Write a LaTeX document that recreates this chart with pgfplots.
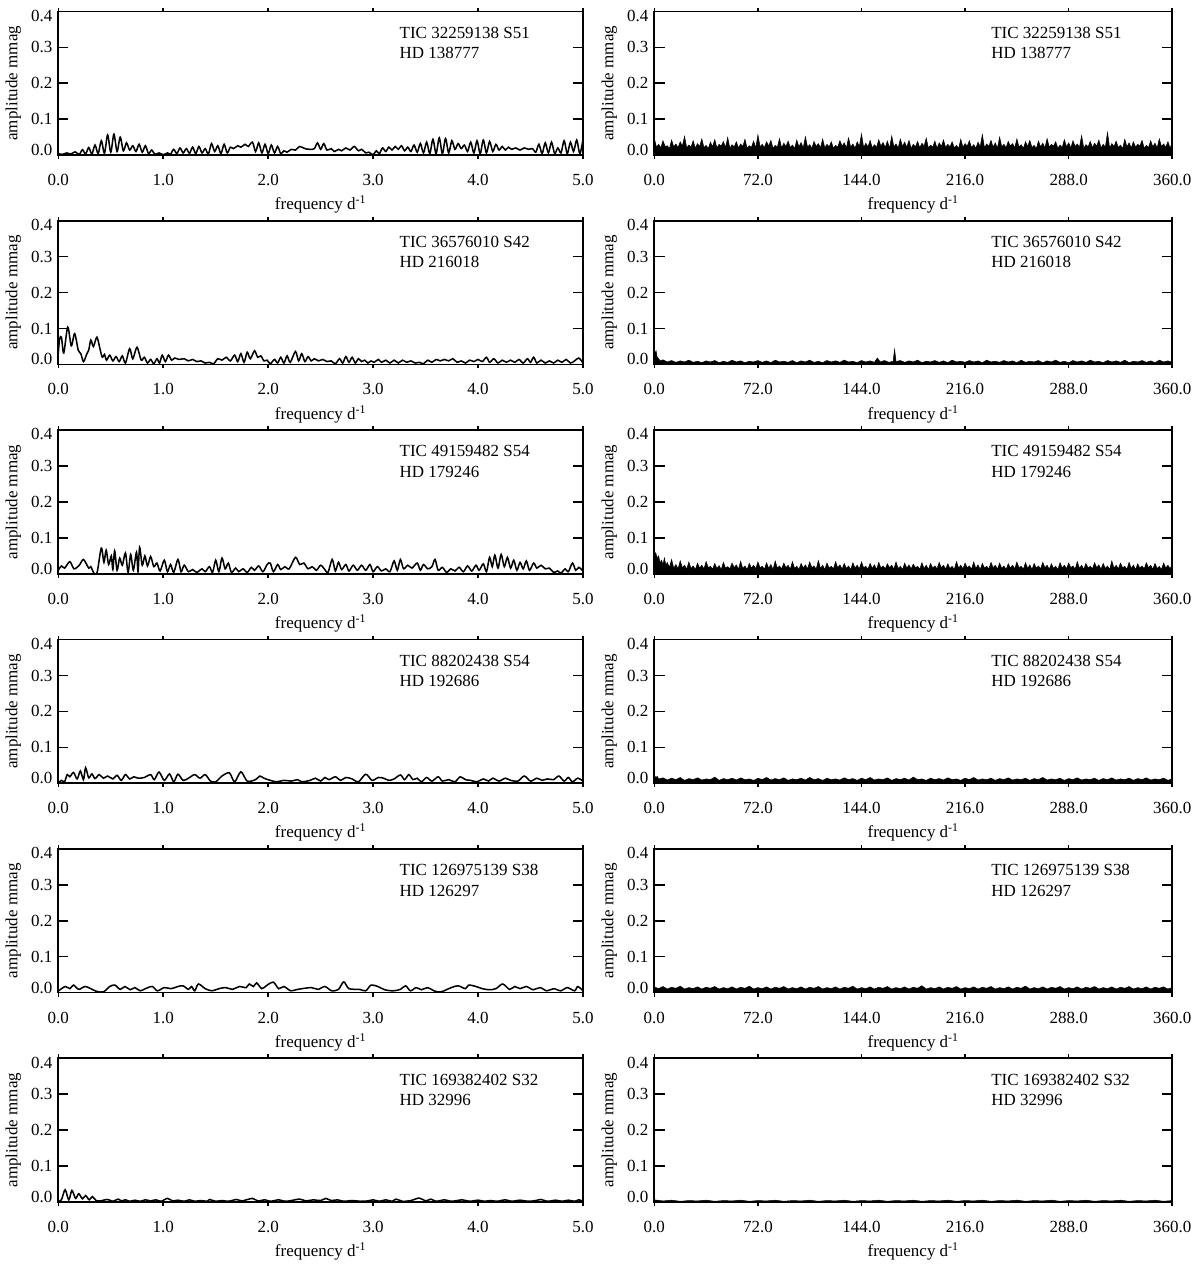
\documentclass[border=0pt]{standalone}
\usepackage{fontspec}
\setmainfont{Liberation Serif}
\usepackage{pgfplots}
\pgfplotsset{compat=1.18}
\usepgfplotslibrary{groupplots}

\newcommand{\starlabel}[2]{\node[anchor=north west, inner sep=0pt, align=left] at (rel axis cs:0.65,0.895) {#1\\#2};}

\pgfplotsset{
  pgram/.style={
    scale only axis, height=84.6pt,
    ymin=0, ymax=0.40,
    ytick={0,0.1,0.2,0.3,0.4},
    yticklabels={\raisebox{3pt}[\height][\depth]{0.0},0.1,0.2,0.3,\raisebox{-2.5pt}[\height][\depth]{0.4}},
    xtick align=outside, ytick align=inside,
    xtick style={/pgfplots/major tick length=2.3pt},
    ytick style={/pgfplots/major tick length=6pt},
    minor tick num=0,
    axis line style={line width=1pt},
    tick style={line width=0.9pt, black},
    xticklabel style={yshift=-3.5pt},
    xlabel={frequency d\textsuperscript{-1}},
    ylabel={amplitude mmag},
    xlabel style={yshift=1pt},
    ylabel style={yshift=-1pt},
  },
  lft/.style={pgram, width=309pt, xmin=0, xmax=5, xtick={0,1,2,3,4,5},
    xticklabels={0.0,1.0,2.0,3.0,4.0,5.0}},
  rgt/.style={pgram, width=305pt, xmin=0, xmax=360, xtick={0,72,144,216,288,360},
    xticklabels={0.0,72.0,144.0,216.0,288.0,360.0}},
  curve/.style={black, line width=0.9pt, smooth, tension=0.5},
  noise/.style={black, fill=black, line width=0.3pt},
}

\begin{document}
\begin{tikzpicture}
\begin{groupplot}[group style={group size=2 by 6, horizontal sep=42pt, vertical sep=38.7pt}]

% ---- row 1
\nextgroupplot[lft]
\addplot[curve] coordinates {
(0,0.004)(0.04,0.002)(0.08,0.006)(0.12,0.003)(0.16,0.009)(0.20,0.002)(0.23,0.015)(0.26,0.003)
(0.29,0.021)(0.32,0.003)(0.35,0.028)(0.38,0.004)(0.41,0.040)(0.44,0.005)(0.47,0.056)(0.50,0.008)
(0.53,0.058)(0.56,0.010)(0.59,0.050)(0.62,0.012)(0.65,0.034)(0.68,0.014)(0.71,0.026)(0.74,0.010)
(0.77,0.030)(0.80,0.008)(0.83,0.026)(0.86,0.004)(0.89,0.014)(0.92,0.002)(0.96,0.006)(1.00,0.001)
(1.04,0.006)(1.07,0.003)(1.10,0.016)(1.13,0.004)(1.16,0.020)(1.19,0.006)(1.22,0.018)(1.25,0.005)
(1.28,0.022)(1.31,0.004)(1.34,0.024)(1.37,0.006)(1.40,0.018)(1.43,0.003)(1.46,0.032)(1.49,0.010)
(1.52,0.026)(1.55,0.004)(1.58,0.030)(1.61,0.006)(1.64,0.022)(1.67,0.018)(1.71,0.026)(1.74,0.022)
(1.78,0.030)(1.81,0.024)(1.85,0.036)(1.88,0.010)(1.91,0.034)(1.94,0.006)(1.97,0.030)(2.00,0.004)
(2.03,0.028)(2.06,0.006)(2.09,0.024)(2.12,0.004)(2.15,0.012)(2.18,0.008)(2.22,0.016)(2.26,0.014)
(2.30,0.024)(2.35,0.018)(2.40,0.016)(2.44,0.018)(2.47,0.034)(2.50,0.016)(2.53,0.032)(2.56,0.014)
(2.60,0.018)(2.63,0.010)(2.67,0.016)(2.70,0.012)(2.74,0.020)(2.78,0.014)(2.82,0.024)(2.86,0.012)
(2.89,0.016)(2.93,0.006)(2.96,0.008)(3.00,0.001)(3.03,0.012)(3.06,0.004)(3.09,0.020)(3.12,0.010)
(3.15,0.022)(3.18,0.014)(3.21,0.024)(3.24,0.016)(3.27,0.026)(3.30,0.012)(3.33,0.022)(3.36,0.010)
(3.39,0.028)(3.42,0.008)(3.45,0.032)(3.48,0.006)(3.51,0.036)(3.54,0.004)(3.57,0.044)(3.60,0.004)
(3.63,0.048)(3.66,0.004)(3.69,0.046)(3.72,0.006)(3.75,0.040)(3.78,0.016)(3.81,0.032)(3.84,0.018)
(3.87,0.028)(3.90,0.010)(3.93,0.036)(3.96,0.006)(3.99,0.040)(4.02,0.004)(4.05,0.042)(4.08,0.006)
(4.11,0.038)(4.14,0.010)(4.17,0.030)(4.20,0.014)(4.23,0.024)(4.26,0.014)(4.29,0.022)(4.32,0.016)
(4.36,0.020)(4.40,0.014)(4.44,0.020)(4.48,0.016)(4.52,0.018)(4.55,0.008)(4.58,0.030)(4.61,0.004)
(4.64,0.034)(4.67,0.006)(4.70,0.036)(4.73,0.004)(4.76,0.020)(4.79,0.006)(4.82,0.040)(4.85,0.004)
(4.88,0.036)(4.91,0.010)(4.94,0.042)(4.97,0.004)(5.00,0.044)};
\starlabel{TIC 32259138 S51}{HD 138777}

\nextgroupplot[rgt]
\addplot[noise] coordinates {
(0,0.046)(1.5,0.022)(3,0.030)(4.5,0.020)(6,0.040)(7.5,0.024)(9,0.026)(10.5,0.018)(12,0.042)(13.5,0.023)
(15,0.031)(16.5,0.021)(18,0.037)(19.5,0.025)(21,0.052)(22.5,0.020)(24,0.028)(25.5,0.022)(27,0.040)(28.5,0.019)
(30,0.032)(31.5,0.024)(33,0.045)(34.5,0.021)(36,0.027)(37.5,0.018)(39,0.036)(40.5,0.023)(42,0.043)(43.5,0.020)
(45,0.030)(46.5,0.025)(48,0.038)(49.5,0.021)(51,0.049)(52.5,0.019)(54,0.029)(55.5,0.023)(57,0.037)(58.5,0.020)
(60,0.031)(61.5,0.024)(63,0.044)(64.5,0.019)(66,0.026)(67.5,0.022)(69,0.039)(70.5,0.020)(72,0.056)(73.5,0.023)
(75,0.030)(76.5,0.021)(78,0.037)(79.5,0.025)(81,0.041)(82.5,0.019)(84,0.027)(85.5,0.022)(87,0.046)(88.5,0.020)
(90,0.033)(91.5,0.024)(93,0.039)(94.5,0.021)(96,0.028)(97.5,0.018)(99,0.042)(100.5,0.023)(102,0.035)(103.5,0.020)
(105,0.051)(106.5,0.022)(108,0.029)(109.5,0.019)(111,0.038)(112.5,0.024)(114,0.032)(115.5,0.021)(117,0.045)(118.5,0.020)
(120,0.030)(121.5,0.023)(123,0.037)(124.5,0.019)(126,0.027)(127.5,0.022)(129,0.040)(130.5,0.025)(132,0.034)(133.5,0.020)
(135,0.048)(136.5,0.022)(138,0.031)(139.5,0.019)(141,0.037)(142.5,0.024)(144,0.059)(145.5,0.021)(147,0.033)(148.5,0.023)
(150,0.041)(151.5,0.020)(153,0.029)(154.5,0.022)(156,0.043)(157.5,0.025)(159,0.035)(160.5,0.021)(162,0.039)(163.5,0.019)
(165,0.053)(166.5,0.023)(168,0.031)(169.5,0.020)(171,0.045)(172.5,0.024)(174,0.036)(175.5,0.022)(177,0.041)(178.5,0.019)
(180,0.030)(181.5,0.023)(183,0.038)(184.5,0.021)(186,0.033)(187.5,0.025)(189,0.047)(190.5,0.020)(192,0.028)(193.5,0.022)
(195,0.039)(196.5,0.019)(198,0.034)(199.5,0.024)(201,0.042)(202.5,0.021)(204,0.030)(205.5,0.023)(207,0.037)(208.5,0.020)
(210,0.027)(211.5,0.018)(213,0.044)(214.5,0.022)(216,0.032)(217.5,0.025)(219,0.040)(220.5,0.021)(222,0.029)(223.5,0.019)
(225,0.036)(226.5,0.023)(228,0.057)(229.5,0.020)(231,0.031)(232.5,0.024)(234,0.041)(235.5,0.022)(237,0.034)(238.5,0.019)
(240,0.050)(241.5,0.023)(243,0.030)(244.5,0.021)(246,0.038)(247.5,0.025)(249,0.032)(250.5,0.020)(252,0.045)(253.5,0.022)
(255,0.029)(256.5,0.019)(258,0.037)(259.5,0.024)(261,0.041)(262.5,0.021)(264,0.027)(265.5,0.018)(267,0.039)(268.5,0.023)
(270,0.033)(271.5,0.020)(273,0.046)(274.5,0.022)(276,0.030)(277.5,0.025)(279,0.037)(280.5,0.019)(282,0.028)(283.5,0.021)
(285,0.043)(286.5,0.023)(288,0.034)(289.5,0.020)(291,0.040)(292.5,0.024)(294,0.031)(295.5,0.022)(297,0.054)(298.5,0.019)
(300,0.029)(301.5,0.023)(303,0.038)(304.5,0.021)(306,0.033)(307.5,0.025)(309,0.042)(310.5,0.020)(312,0.030)(313.5,0.022)
(315,0.063)(316.5,0.019)(318,0.032)(319.5,0.024)(321,0.039)(322.5,0.021)(324,0.028)(325.5,0.018)(327,0.044)(328.5,0.023)
(330,0.034)(331.5,0.020)(333,0.037)(334.5,0.022)(336,0.030)(337.5,0.025)(339,0.041)(340.5,0.019)(342,0.027)(343.5,0.021)
(345,0.040)(346.5,0.023)(348,0.033)(349.5,0.020)(351,0.045)(352.5,0.024)(354,0.031)(355.5,0.022)(357,0.037)(358.5,0.019)
(360,0.035)} \closedcycle;
\starlabel{TIC 32259138 S51}{HD 138777}

% ---- row 2
\nextgroupplot[lft]
\addplot[curve] coordinates {
(0,0.030)(0.012,0.070)(0.030,0.076)(0.052,0.032)(0.090,0.104)(0.124,0.052)(0.156,0.086)(0.190,0.040)
(0.215,0.030)(0.240,0.008)(0.270,0.028)(0.290,0.040)(0.310,0.068)(0.335,0.050)(0.368,0.076)(0.400,0.040)
(0.420,0.020)(0.440,0.028)(0.460,0.012)(0.490,0.026)(0.520,0.010)(0.550,0.022)(0.580,0.008)(0.610,0.024)
(0.640,0.004)(0.680,0.044)(0.710,0.016)(0.750,0.048)(0.790,0.012)(0.820,0.020)(0.850,0.004)(0.880,0.014)
(0.910,0.002)(0.940,0.016)(0.965,0.004)(0.990,0.026)(1.020,0.008)(1.050,0.026)(1.080,0.012)(1.110,0.018)
(1.150,0.014)(1.200,0.016)(1.240,0.010)(1.280,0.014)(1.320,0.008)(1.360,0.010)(1.400,0.004)(1.440,0.006)
(1.480,0.002)(1.520,0.016)(1.560,0.012)(1.600,0.020)(1.640,0.010)(1.680,0.026)(1.710,0.008)(1.740,0.030)
(1.770,0.006)(1.800,0.034)(1.830,0.016)(1.870,0.038)(1.900,0.020)(1.930,0.024)(1.960,0.010)(1.990,0.012)
(2.020,0.002)(2.060,0.014)(2.090,0.004)(2.120,0.020)(2.150,0.004)(2.180,0.024)(2.210,0.006)(2.260,0.036)
(2.290,0.010)(2.320,0.030)(2.350,0.008)(2.380,0.022)(2.410,0.010)(2.440,0.016)(2.480,0.010)(2.520,0.014)
(2.560,0.008)(2.600,0.010)(2.640,0.002)(2.680,0.016)(2.710,0.004)(2.740,0.022)(2.770,0.006)(2.800,0.020)
(2.830,0.004)(2.860,0.016)(2.890,0.008)(2.920,0.012)(2.950,0.004)(2.980,0.010)(3.010,0.006)(3.050,0.014)
(3.080,0.006)(3.120,0.012)(3.160,0.004)(3.200,0.012)(3.240,0.004)(3.280,0.012)(3.320,0.006)(3.360,0.010)
(3.400,0.004)(3.440,0.006)(3.480,0.002)(3.520,0.012)(3.560,0.006)(3.600,0.014)(3.640,0.010)(3.680,0.014)
(3.720,0.010)(3.760,0.016)(3.800,0.006)(3.840,0.010)(3.880,0.004)(3.920,0.012)(3.960,0.008)(4.000,0.014)
(4.040,0.008)(4.080,0.020)(4.110,0.006)(4.150,0.016)(4.190,0.004)(4.230,0.012)(4.270,0.006)(4.310,0.012)
(4.350,0.006)(4.390,0.014)(4.430,0.004)(4.470,0.016)(4.500,0.006)(4.530,0.020)(4.560,0.004)(4.600,0.012)
(4.640,0.004)(4.680,0.010)(4.720,0.004)(4.760,0.012)(4.800,0.006)(4.840,0.014)(4.880,0.004)(4.920,0.010)
(4.960,0.018)(5.000,0.004)};
\starlabel{TIC 36576010 S42}{HD 216018}

\nextgroupplot[rgt]
\addplot[noise] coordinates {
(0,0.046)(0.6,0.028)(1.2,0.038)(2,0.020)(3,0.016)(4,0.010)(6,0.013)(9,0.007)(12,0.011)(15,0.006)
(18,0.010)(21,0.007)(24,0.012)(27,0.006)(30,0.009)(33,0.005)(36,0.010)(39,0.007)(42,0.011)(45,0.005)
(48,0.009)(51,0.006)(54,0.012)(57,0.007)(60,0.010)(63,0.005)(66,0.009)(69,0.007)(72,0.011)(75,0.006)
(78,0.010)(81,0.005)(84,0.012)(87,0.007)(90,0.009)(93,0.006)(96,0.011)(99,0.005)(102,0.010)(105,0.007)
(108,0.012)(111,0.006)(114,0.009)(117,0.005)(120,0.011)(123,0.007)(126,0.010)(129,0.006)(132,0.012)(135,0.007)
(138,0.009)(141,0.005)(144,0.011)(147,0.007)(150,0.010)(153,0.006)(155,0.018)(157,0.007)(160,0.011)(163,0.006)
(166,0.009)(167,0.042)(168,0.008)(171,0.011)(174,0.006)(177,0.010)(180,0.007)(183,0.012)(186,0.005)(189,0.009)
(192,0.007)(195,0.011)(198,0.006)(201,0.010)(204,0.005)(207,0.012)(210,0.007)(213,0.009)(216,0.006)(219,0.011)
(222,0.007)(225,0.010)(228,0.005)(231,0.012)(234,0.007)(237,0.009)(240,0.006)(243,0.011)(246,0.007)(249,0.010)
(252,0.005)(255,0.012)(258,0.006)(261,0.009)(264,0.007)(267,0.011)(270,0.005)(273,0.010)(276,0.007)(279,0.012)
(282,0.006)(285,0.009)(288,0.005)(291,0.011)(294,0.007)(297,0.010)(300,0.006)(303,0.012)(306,0.007)(309,0.009)
(312,0.005)(315,0.011)(318,0.007)(321,0.010)(324,0.006)(327,0.012)(330,0.005)(333,0.009)(336,0.007)(339,0.011)
(342,0.006)(345,0.010)(348,0.005)(351,0.012)(354,0.007)(357,0.010)(360,0.006)} \closedcycle;
\starlabel{TIC 36576010 S42}{HD 216018}

% ---- row 3
\nextgroupplot[lft]
\addplot[curve] coordinates {
(0,0.010)(0.030,0.022)(0.060,0.016)(0.110,0.034)(0.150,0.014)(0.200,0.024)(0.240,0.040)(0.290,0.016)
(0.310,0.020)(0.340,0.002)(0.370,0.004)(0.410,0.072)(0.435,0.032)(0.456,0.066)(0.480,0.026)(0.505,0.050)
(0.520,0.012)(0.537,0.064)(0.560,0.010)(0.585,0.044)(0.610,0.024)(0.640,0.058)(0.665,0.004)(0.690,0.054)
(0.715,0.010)(0.745,0.060)(0.760,0.006)(0.775,0.074)(0.800,0.024)(0.825,0.050)(0.850,0.022)(0.880,0.048)
(0.910,0.020)(0.940,0.030)(0.970,0.008)(1.010,0.038)(1.040,0.006)(1.070,0.026)(1.100,0.004)(1.140,0.040)
(1.170,0.006)(1.200,0.024)(1.240,0.006)(1.280,0.012)(1.320,0.004)(1.370,0.014)(1.400,0.006)(1.440,0.020)
(1.470,0.004)(1.500,0.038)(1.530,0.006)(1.560,0.044)(1.590,0.014)(1.620,0.030)(1.650,0.004)(1.690,0.016)
(1.720,0.006)(1.760,0.014)(1.800,0.004)(1.840,0.018)(1.870,0.010)(1.910,0.022)(1.950,0.006)(1.990,0.026)
(2.020,0.030)(2.050,0.006)(2.090,0.026)(2.120,0.012)(2.160,0.020)(2.200,0.014)(2.260,0.046)(2.300,0.026)
(2.340,0.030)(2.380,0.014)(2.420,0.020)(2.460,0.010)(2.500,0.024)(2.540,0.012)(2.570,0.004)(2.610,0.040)
(2.640,0.008)(2.670,0.032)(2.700,0.012)(2.740,0.026)(2.770,0.008)(2.810,0.024)(2.850,0.010)(2.890,0.024)
(2.930,0.010)(2.970,0.026)(3.000,0.006)(3.040,0.020)(3.080,0.008)(3.120,0.014)(3.160,0.006)(3.200,0.036)
(3.230,0.010)(3.260,0.040)(3.290,0.014)(3.330,0.024)(3.370,0.016)(3.420,0.030)(3.450,0.010)(3.480,0.026)
(3.520,0.014)(3.560,0.020)(3.590,0.040)(3.620,0.010)(3.660,0.018)(3.700,0.004)(3.740,0.014)(3.780,0.008)
(3.820,0.018)(3.860,0.006)(3.900,0.022)(3.940,0.008)(3.980,0.024)(4.010,0.010)(4.050,0.028)(4.080,0.006)
(4.110,0.046)(4.135,0.020)(4.160,0.052)(4.190,0.016)(4.220,0.054)(4.250,0.020)(4.280,0.046)(4.310,0.016)
(4.340,0.038)(4.370,0.010)(4.400,0.032)(4.430,0.014)(4.460,0.036)(4.490,0.010)(4.530,0.030)(4.560,0.016)
(4.600,0.024)(4.640,0.014)(4.680,0.016)(4.720,0.004)(4.760,0.008)(4.790,0.002)(4.830,0.014)(4.860,0.006)
(4.900,0.030)(4.930,0.010)(4.960,0.018)(5.000,0.008)};
\starlabel{TIC 49159482 S54}{HD 179246}

\nextgroupplot[rgt]
\addplot[noise] coordinates {
(0,0.072)(0.5,0.050)(1,0.058)(2,0.044)(3,0.050)(4,0.030)(5,0.038)(6,0.026)(7,0.044)(8,0.024)
(9,0.032)(10.5,0.018)(12,0.040)(13.5,0.016)(15,0.026)(16.5,0.014)(18,0.036)(19.5,0.017)(21,0.024)(22.5,0.013)
(24,0.033)(25.5,0.015)(27,0.022)(28.5,0.012)(30,0.030)(31.5,0.016)(33,0.024)(34.5,0.014)(36,0.034)(37.5,0.017)
(39,0.021)(40.5,0.013)(42,0.029)(43.5,0.015)(45,0.023)(46.5,0.012)(48,0.032)(49.5,0.016)(51,0.020)(52.5,0.014)
(54,0.030)(55.5,0.017)(57,0.025)(58.5,0.013)(60,0.035)(61.5,0.015)(63,0.022)(64.5,0.012)(66,0.029)(67.5,0.016)
(69,0.024)(70.5,0.014)(72,0.033)(73.5,0.017)(75,0.021)(76.5,0.013)(78,0.031)(79.5,0.015)(81,0.026)(82.5,0.012)
(84,0.036)(85.5,0.016)(87,0.022)(88.5,0.014)(90,0.030)(91.5,0.017)(93,0.024)(94.5,0.013)(96,0.034)(97.5,0.015)
(99,0.021)(100.5,0.012)(102,0.029)(103.5,0.016)(105,0.025)(106.5,0.014)(108,0.033)(109.5,0.017)(111,0.022)(112.5,0.013)
(114,0.037)(115.5,0.015)(117,0.024)(118.5,0.012)(120,0.030)(121.5,0.016)(123,0.021)(124.5,0.014)(126,0.034)(127.5,0.017)
(129,0.025)(130.5,0.013)(132,0.029)(133.5,0.015)(135,0.022)(136.5,0.012)(138,0.031)(139.5,0.016)(141,0.024)(142.5,0.014)
(144,0.033)(145.5,0.017)(147,0.021)(148.5,0.013)(150,0.029)(151.5,0.015)(153,0.025)(154.5,0.012)(156,0.032)(157.5,0.016)
(159,0.022)(160.5,0.014)(162,0.028)(163.5,0.017)(165,0.024)(166.5,0.013)(168,0.033)(169.5,0.015)(171,0.021)(172.5,0.012)
(174,0.030)(175.5,0.016)(177,0.025)(178.5,0.014)(180,0.027)(181.5,0.017)(183,0.021)(184.5,0.013)(186,0.031)(187.5,0.015)
(189,0.024)(190.5,0.012)(192,0.029)(193.5,0.016)(195,0.022)(196.5,0.014)(198,0.032)(199.5,0.017)(201,0.024)(202.5,0.013)
(204,0.028)(205.5,0.015)(207,0.021)(208.5,0.012)(210,0.034)(211.5,0.016)(213,0.024)(214.5,0.014)(216,0.030)(217.5,0.017)
(219,0.022)(220.5,0.013)(222,0.033)(223.5,0.015)(225,0.025)(226.5,0.012)(228,0.029)(229.5,0.016)(231,0.021)(232.5,0.014)
(234,0.032)(235.5,0.017)(237,0.024)(238.5,0.013)(240,0.030)(241.5,0.015)(243,0.022)(244.5,0.012)(246,0.028)(247.5,0.016)
(249,0.024)(250.5,0.014)(252,0.033)(253.5,0.017)(255,0.021)(256.5,0.013)(258,0.031)(259.5,0.015)(261,0.025)(262.5,0.012)
(264,0.029)(265.5,0.016)(267,0.022)(268.5,0.014)(270,0.032)(271.5,0.017)(273,0.024)(274.5,0.013)(276,0.028)(277.5,0.015)
(279,0.021)(280.5,0.012)(282,0.031)(283.5,0.016)(285,0.024)(286.5,0.014)(288,0.030)(289.5,0.017)(291,0.022)(292.5,0.013)
(294,0.034)(295.5,0.015)(297,0.024)(298.5,0.012)(300,0.029)(301.5,0.016)(303,0.021)(304.5,0.014)(306,0.031)(307.5,0.017)
(309,0.025)(310.5,0.013)(312,0.029)(313.5,0.015)(315,0.022)(316.5,0.012)(318,0.036)(319.5,0.016)(321,0.024)(322.5,0.014)
(324,0.030)(325.5,0.017)(327,0.021)(328.5,0.013)(330,0.032)(331.5,0.015)(333,0.024)(334.5,0.012)(336,0.028)(337.5,0.016)
(339,0.022)(340.5,0.014)(342,0.031)(343.5,0.017)(345,0.024)(346.5,0.013)(348,0.029)(349.5,0.015)(351,0.021)(352.5,0.012)
(354,0.030)(355.5,0.016)(357,0.024)(358.5,0.014)(360,0.027)} \closedcycle;
\starlabel{TIC 49159482 S54}{HD 179246}

% ---- row 4
\nextgroupplot[lft]
\addplot[curve] coordinates {
(0,0.001)(0.030,0.008)(0.060,0.004)(0.085,0.024)(0.110,0.018)(0.145,0.030)(0.180,0.012)(0.210,0.034)
(0.240,0.010)(0.260,0.043)(0.290,0.015)(0.320,0.026)(0.350,0.013)(0.390,0.024)(0.430,0.014)(0.470,0.020)
(0.520,0.012)(0.560,0.022)(0.600,0.008)(0.640,0.024)(0.680,0.012)(0.720,0.018)(0.760,0.014)(0.820,0.016)
(0.880,0.024)(0.915,0.010)(0.960,0.031)(1.010,0.008)(1.060,0.026)(1.100,0.004)(1.140,0.025)(1.190,0.008)
(1.240,0.014)(1.300,0.024)(1.350,0.014)(1.400,0.024)(1.450,0.006)(1.500,0.004)(1.560,0.020)(1.630,0.029)
(1.680,0.004)(1.740,0.032)(1.800,0.006)(1.880,0.010)(1.920,0.020)(1.960,0.014)(2.020,0.008)(2.080,0.004)
(2.150,0.008)(2.220,0.006)(2.280,0.010)(2.320,0.004)(2.400,0.008)(2.450,0.014)(2.500,0.006)(2.540,0.016)
(2.580,0.010)(2.640,0.018)(2.690,0.008)(2.740,0.016)(2.800,0.012)(2.860,0.004)(2.930,0.025)(2.990,0.008)
(3.050,0.016)(3.100,0.014)(3.150,0.008)(3.200,0.012)(3.260,0.023)(3.300,0.010)(3.340,0.024)(3.380,0.010)
(3.420,0.014)(3.460,0.004)(3.510,0.016)(3.560,0.006)(3.620,0.018)(3.660,0.006)(3.720,0.010)(3.780,0.004)
(3.830,0.018)(3.880,0.010)(3.930,0.008)(3.990,0.004)(4.050,0.012)(4.100,0.006)(4.140,0.014)(4.200,0.006)
(4.260,0.014)(4.310,0.008)(4.380,0.006)(4.440,0.020)(4.500,0.006)(4.560,0.014)(4.610,0.008)(4.660,0.012)
(4.720,0.010)(4.770,0.020)(4.820,0.006)(4.860,0.016)(4.900,0.004)(4.950,0.014)(5.000,0.006)};
\starlabel{TIC 88202438 S54}{HD 192686}

\nextgroupplot[rgt]
\addplot[noise] coordinates {
(0,0.022)(1,0.016)(2,0.019)(3,0.012)(6,0.015)(9,0.009)(12,0.014)(15,0.010)(18,0.016)(21,0.008)
(24,0.013)(27,0.010)(30,0.015)(33,0.009)(36,0.012)(39,0.010)(42,0.017)(45,0.008)(48,0.013)(51,0.010)
(54,0.014)(57,0.009)(60,0.015)(63,0.010)(66,0.012)(69,0.008)(72,0.014)(75,0.010)(78,0.016)(81,0.009)
(84,0.013)(87,0.010)(90,0.015)(93,0.008)(96,0.012)(99,0.010)(102,0.014)(105,0.009)(108,0.016)(111,0.010)
(114,0.013)(117,0.008)(120,0.014)(123,0.010)(126,0.012)(129,0.009)(132,0.015)(135,0.010)(138,0.013)(141,0.008)
(144,0.014)(147,0.010)(150,0.016)(153,0.009)(156,0.012)(159,0.010)(162,0.015)(165,0.008)(168,0.013)(171,0.010)
(174,0.014)(177,0.009)(180,0.017)(183,0.010)(186,0.012)(189,0.008)(192,0.014)(195,0.010)(198,0.013)(201,0.009)
(204,0.015)(207,0.010)(210,0.012)(213,0.008)(216,0.014)(219,0.010)(222,0.016)(225,0.009)(228,0.012)(231,0.010)
(234,0.014)(237,0.008)(240,0.013)(243,0.010)(246,0.015)(249,0.009)(252,0.012)(255,0.010)(258,0.014)(261,0.008)
(264,0.013)(267,0.010)(270,0.016)(273,0.009)(276,0.012)(279,0.010)(282,0.014)(285,0.008)(288,0.013)(291,0.010)
(294,0.015)(297,0.009)(300,0.012)(303,0.010)(306,0.014)(309,0.008)(312,0.013)(315,0.010)(318,0.015)(321,0.009)
(324,0.012)(327,0.010)(330,0.014)(333,0.008)(336,0.013)(339,0.010)(342,0.015)(345,0.009)(348,0.012)(351,0.010)
(354,0.014)(357,0.008)(360,0.012)} \closedcycle;
\starlabel{TIC 88202438 S54}{HD 192686}

% ---- row 5
\nextgroupplot[lft]
\addplot[curve] coordinates {
(0,0.004)(0.065,0.017)(0.11,0.011)(0.145,0.021)(0.195,0.009)(0.26,0.017)(0.36,0.004)(0.43,0.002)
(0.49,0.017)(0.54,0.021)(0.59,0.009)(0.635,0.017)(0.685,0.008)(0.73,0.014)(0.78,0.005)(0.83,0.011)
(0.895,0.017)(0.945,0.005)(1.01,0.014)(1.075,0.011)(1.14,0.017)(1.19,0.019)(1.24,0.009)(1.27,0.017)
(1.30,0.005)(1.335,0.024)(1.40,0.011)(1.465,0.005)(1.53,0.011)(1.595,0.014)(1.66,0.009)(1.725,0.017)
(1.79,0.014)(1.82,0.024)(1.86,0.017)(1.89,0.027)(1.94,0.011)(1.99,0.021)(2.05,0.029)(2.10,0.011)
(2.15,0.017)(2.215,0.005)(2.28,0.009)(2.41,0.014)(2.475,0.009)(2.54,0.017)(2.605,0.005)(2.67,0.009)
(2.72,0.030)(2.77,0.011)(2.87,0.009)(2.93,0.005)(2.98,0.021)(3.045,0.017)(3.11,0.008)(3.19,0.005)
(3.26,0.009)(3.31,0.019)(3.355,0.005)(3.41,0.014)(3.46,0.008)(3.52,0.014)(3.58,0.005)(3.645,0.002)
(3.745,0.014)(3.81,0.019)(3.88,0.011)(3.91,0.021)(3.98,0.017)(4.04,0.011)(4.105,0.008)(4.17,0.011)
(4.235,0.024)(4.30,0.009)(4.35,0.017)(4.40,0.011)(4.46,0.017)(4.525,0.008)(4.59,0.014)(4.655,0.005)
(4.72,0.011)(4.79,0.005)(4.85,0.014)(4.92,0.005)(4.95,0.017)(5.0,0.005)};
\starlabel{TIC 126975139 S38}{HD 126297}

\nextgroupplot[rgt]
\addplot[noise] coordinates {
(0,0.016)(3,0.011)(6,0.017)(9,0.010)(12,0.015)(15,0.012)(18,0.018)(21,0.010)(24,0.014)(27,0.011)
(30,0.016)(33,0.010)(36,0.015)(39,0.012)(42,0.017)(45,0.010)(48,0.014)(51,0.011)(54,0.016)(57,0.010)
(60,0.015)(63,0.012)(66,0.018)(69,0.010)(72,0.014)(75,0.011)(78,0.016)(81,0.010)(84,0.015)(87,0.012)
(90,0.017)(93,0.010)(96,0.014)(99,0.011)(102,0.016)(105,0.010)(108,0.015)(111,0.012)(114,0.017)(117,0.010)
(120,0.014)(123,0.011)(126,0.016)(129,0.010)(132,0.015)(135,0.012)(138,0.018)(141,0.010)(144,0.014)(147,0.011)
(150,0.016)(153,0.010)(156,0.015)(159,0.012)(162,0.017)(165,0.010)(168,0.014)(171,0.011)(174,0.016)(177,0.010)
(180,0.015)(183,0.012)(186,0.019)(189,0.010)(192,0.014)(195,0.011)(198,0.016)(201,0.010)(204,0.015)(207,0.012)
(210,0.017)(213,0.010)(216,0.014)(219,0.011)(222,0.016)(225,0.010)(228,0.015)(231,0.012)(234,0.017)(237,0.010)
(240,0.014)(243,0.011)(246,0.016)(249,0.010)(252,0.015)(255,0.012)(258,0.018)(261,0.010)(264,0.014)(267,0.011)
(270,0.016)(273,0.010)(276,0.015)(279,0.012)(282,0.017)(285,0.010)(288,0.014)(291,0.011)(294,0.016)(297,0.010)
(300,0.015)(303,0.012)(306,0.017)(309,0.010)(312,0.014)(315,0.011)(318,0.016)(321,0.010)(324,0.015)(327,0.012)
(330,0.017)(333,0.010)(336,0.014)(339,0.011)(342,0.016)(345,0.010)(348,0.015)(351,0.012)(354,0.016)(357,0.010)
(360,0.014)} \closedcycle;
\starlabel{TIC 126975139 S38}{HD 126297}

% ---- row 6
\nextgroupplot[lft]
\addplot[curve] coordinates {
(0,0.002)(0.03,0.006)(0.065,0.034)(0.10,0.006)(0.13,0.032)(0.165,0.010)(0.195,0.023)(0.23,0.009)
(0.26,0.018)(0.295,0.006)(0.325,0.015)(0.36,0.004)(0.40,0.003)(0.47,0.007)(0.52,0.002)(0.57,0.008)
(0.60,0.003)(0.64,0.006)(0.68,0.002)(0.73,0.005)(0.78,0.002)(0.83,0.006)(0.88,0.003)(0.93,0.006)
(0.98,0.002)(1.04,0.010)(1.09,0.003)(1.14,0.005)(1.20,0.002)(1.25,0.006)(1.30,0.002)(1.36,0.004)
(1.42,0.002)(1.44,0.007)(1.50,0.002)(1.56,0.004)(1.62,0.002)(1.70,0.007)(1.75,0.003)(1.85,0.010)
(1.90,0.003)(1.97,0.006)(2.02,0.002)(2.10,0.006)(2.16,0.002)(2.22,0.004)(2.30,0.008)(2.36,0.003)
(2.43,0.006)(2.50,0.004)(2.55,0.010)(2.60,0.004)(2.66,0.006)(2.72,0.002)(2.80,0.004)(2.88,0.002)
(2.95,0.003)(3.00,0.006)(3.06,0.002)(3.12,0.006)(3.18,0.002)(3.22,0.008)(3.28,0.002)(3.36,0.004)
(3.44,0.011)(3.50,0.003)(3.55,0.008)(3.60,0.002)(3.68,0.006)(3.74,0.002)(3.80,0.004)(3.85,0.006)
(3.92,0.002)(4.00,0.005)(4.06,0.002)(4.12,0.004)(4.18,0.002)(4.26,0.006)(4.32,0.002)(4.40,0.005)
(4.48,0.002)(4.55,0.004)(4.60,0.007)(4.66,0.002)(4.74,0.005)(4.80,0.002)(4.86,0.005)(4.92,0.002)
(4.96,0.006)(5.00,0.002)};
\starlabel{TIC 169382402 S32}{HD 32996}

\nextgroupplot[rgt]
\addplot[noise] coordinates {
(0,0.006)(6,0.003)(12,0.005)(18,0.002)(24,0.004)(30,0.003)(36,0.005)(42,0.002)(48,0.004)(54,0.003)
(60,0.005)(66,0.002)(72,0.004)(78,0.003)(84,0.005)(90,0.002)(96,0.004)(102,0.003)(108,0.005)(114,0.002)
(120,0.004)(126,0.003)(132,0.005)(138,0.002)(144,0.004)(150,0.003)(156,0.005)(162,0.002)(168,0.004)(174,0.003)
(180,0.005)(186,0.002)(192,0.004)(198,0.003)(204,0.005)(210,0.002)(216,0.004)(222,0.003)(228,0.005)(234,0.002)
(240,0.004)(246,0.003)(252,0.005)(258,0.002)(264,0.004)(270,0.003)(276,0.005)(282,0.002)(288,0.004)(294,0.003)
(300,0.005)(306,0.002)(312,0.004)(318,0.003)(324,0.005)(330,0.002)(336,0.004)(342,0.003)(348,0.005)(354,0.002)
(360,0.004)} \closedcycle;
\starlabel{TIC 169382402 S32}{HD 32996}

\end{groupplot}
\end{tikzpicture}
\end{document}
